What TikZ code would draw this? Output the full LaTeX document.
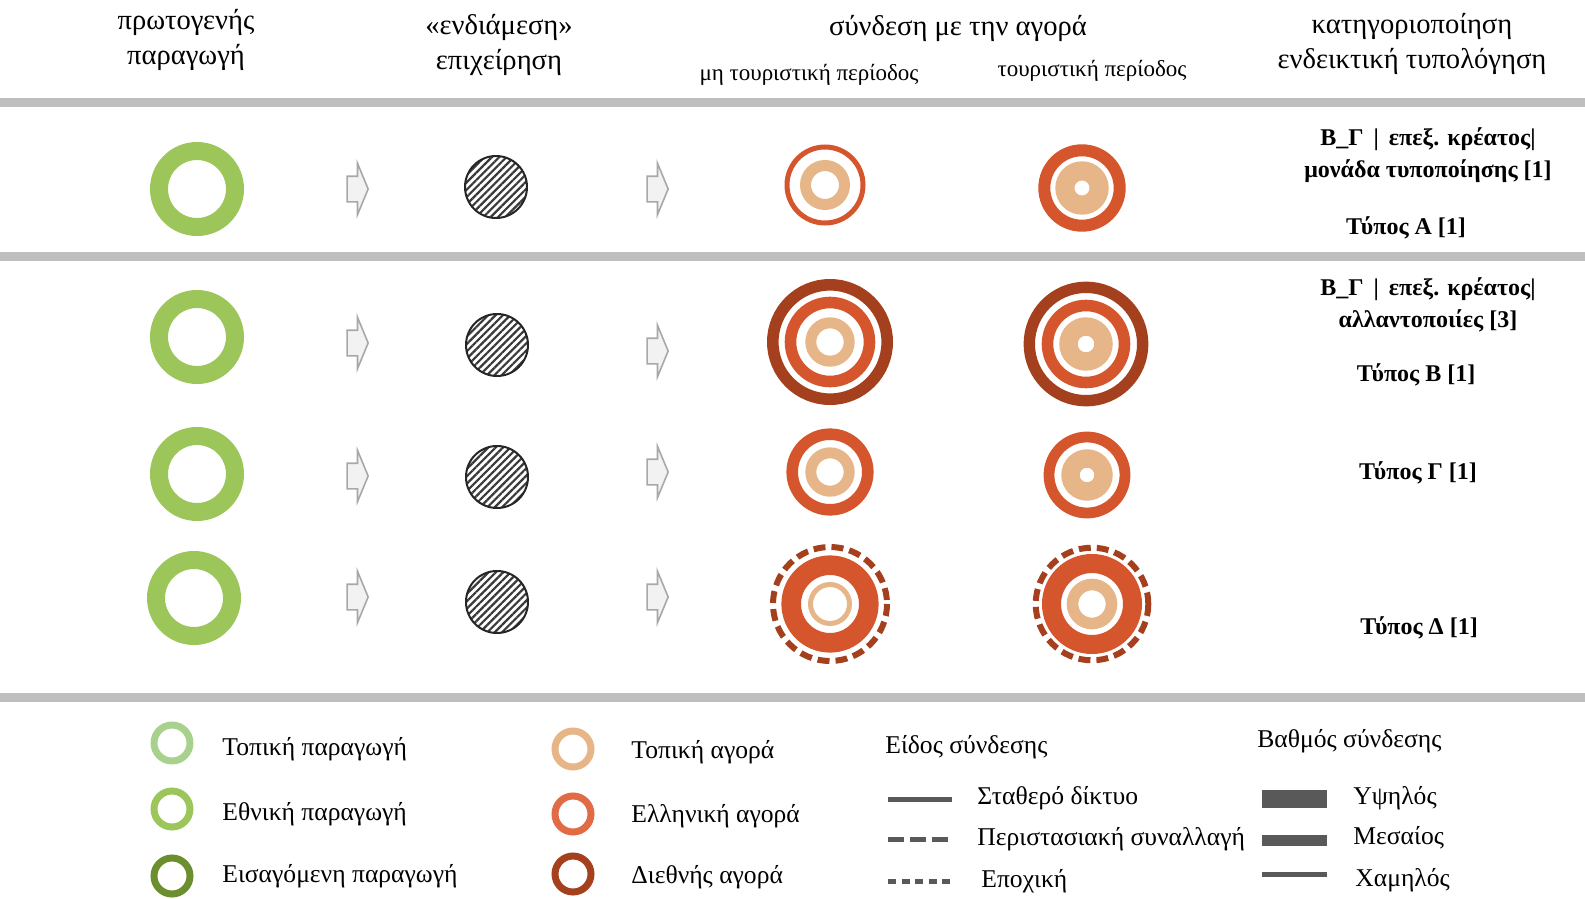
\documentclass[tikz,border=0pt]{standalone}
\usepackage{fontspec}
\setmainfont{Liberation Serif}
\usepackage{xcolor}
\usepackage{tikz}
\usetikzlibrary{shapes.arrows, patterns.meta, positioning}

\definecolor{bargray}{HTML}{BFBFBF}
\definecolor{prodgreen}{HTML}{9DC65A}
\definecolor{prodlight}{HTML}{A9D18E}
\definecolor{proddark}{HTML}{6B8E2F}
\definecolor{localtan}{HTML}{E6B689}
\definecolor{greekorange}{HTML}{D5562D}
\definecolor{greeklight}{HTML}{E06B45}
\definecolor{intlbrown}{HTML}{A5401F}
\definecolor{firmedge}{HTML}{262626}
\definecolor{hatchgray}{HTML}{3A3A3A}
\definecolor{arrowedge}{HTML}{A8A8A8}
\definecolor{arrowfill}{HTML}{F2F2F2}
\definecolor{linkgray}{HTML}{595959}

\begin{document}
\begin{tikzpicture}[x=0.5pt,y=-0.5pt,
    sepbar/.style={fill=bargray},
    prod/.style={draw=prodgreen,line width=9pt},
    firm/.style={draw=firmedge,line width=1pt,
        pattern={Lines[angle=45,distance=2.6pt,line width=1.1pt]},
        pattern color=hatchgray},
    flow/.style={single arrow,draw=arrowedge,fill=arrowfill,line width=0.8pt,
        inner xsep=0pt,inner ysep=6pt,minimum height=10.5pt,
        single arrow head extend=6.5pt,single arrow tip angle=135},
    localmkt/.style={draw=localtan},
    greekmkt/.style={draw=greekorange},
    intlmkt/.style={draw=intlbrown},
    colhead/.style={font=\fontsize{14.3}{17.5}\selectfont,align=center},
    subhead/.style={font=\fontsize{11.5}{14}\selectfont},
    typetxt/.style={font=\bfseries\fontsize{12}{16}\selectfont,align=center},
    legtxt/.style={font=\fontsize{12.8}{15}\selectfont,anchor=west,inner xsep=0pt},
    legring/.style={line width=3.5pt},
    linksample/.style={draw=linkgray,line width=2.5pt}]

        \useasboundingbox (0,0) rectangle (1585,899);

        %=====================
        % Separators
        %=====================
        \fill[sepbar] (0,98) rectangle (1585,107);
        \fill[sepbar] (0,252) rectangle (1585,261);
        \fill[sepbar] (0,693) rectangle (1585,702);

        %=====================
        % Column headers
        %=====================
        \node[colhead] (hprod) at (186,40) {πρωτογενής\\παραγωγή};
        \node[colhead] (hfirm) at (499,45) {«ενδιάμεση»\\επιχείρηση};
        \node[colhead] (hmkt) at (958,28) {σύνδεση με την αγορά};
        \node[subhead] (hoff) at (809,75) {μη τουριστική περίοδος};
        \node[subhead] (hon) at (1092,71) {τουριστική περίοδος};
        \node[colhead] (htype) at (1412,44) {κατηγοριοποίηση\\ενδεικτική τυπολόγηση};

        %=====================
        % Row 1
        %=====================
        \draw[prod] (197,189) circle (38);
        \node[flow] (a11) at (355,189) {};
        \draw[firm] (496,187) circle (31);
        \node[flow] (a12) at (655,189) {};
        \draw[greekmkt,line width=2.5pt] (825,185) circle (38);
        \draw[localmkt,line width=5.5pt] (825,185) circle (19.5);
        \draw[greekmkt,line width=6pt] (1082,188) circle (37.7);
        \draw[localmkt,line width=9.6pt] (1082,188) circle (17.1);

        \node[typetxt] (t1a) at (1428,155)
        {Β\_Γ \,|\, επεξ. κρέατος|\\μονάδα τυποποίησης [1]};
        \node[typetxt] (t1b) at (1406,228) {Τύπος Α [1]};

        %=====================
        % Row 2
        %=====================
        \draw[prod] (197,337) circle (38);
        \node[flow] (a21) at (355,343) {};
        \draw[firm] (497,345) circle (31);
        \node[flow] (a22) at (655,351) {};
        \draw[intlmkt,line width=5.8pt] (830,342) circle (57.2);
        \draw[greekmkt,line width=5.8pt] (830,342) circle (39.5);
        \draw[localmkt,line width=5.5pt] (830,342) circle (19.2);
        \draw[intlmkt,line width=5.7pt] (1086,344) circle (56.7);
        \draw[greekmkt,line width=5.8pt] (1086,344) circle (38.5);
        \draw[localmkt,line width=9.2pt] (1086,344) circle (17.5);

        \node[typetxt] (t2a) at (1428,305)
        {Β\_Γ \,|\, επεξ. κρέατος|\\αλλαντοποιίες [3]};
        \node[typetxt] (t2b) at (1416,375) {Τύπος Β [1]};

        %=====================
        % Row 3
        %=====================
        \draw[prod] (197,474) circle (38);
        \node[flow] (a31) at (355,476) {};
        \draw[firm] (497,477) circle (31);
        \node[flow] (a32) at (655,472) {};
        \draw[greekmkt,line width=5.8pt] (830,472) circle (37.8);
        \draw[localmkt,line width=5.5pt] (830,472) circle (19.2);
        \draw[greekmkt,line width=5.4pt] (1087,475) circle (38);
        \draw[localmkt,line width=9.2pt] (1087,475) circle (16.5);

        \node[typetxt] (t3) at (1418,473) {Τύπος Γ [1]};

        %=====================
        % Row 4 (seasonal)
        %=====================
        \draw[prod] (194,598) circle (38);
        \node[flow] (a41) at (355,597) {};
        \draw[firm] (497,602) circle (31);
        \node[flow] (a42) at (655,597) {};
        \draw[intlmkt,line width=3pt,dash pattern=on 6pt off 3pt] (830,604) circle (57);
        \draw[greekmkt,line width=9.8pt] (830,604) circle (38.8);
        \draw[localmkt,line width=2.5pt] (830,604) circle (19.5);
        \draw[intlmkt,line width=3pt,dash pattern=on 6pt off 3pt] (1092,604) circle (56.3);
        \draw[greekmkt,line width=9.5pt] (1092,604) circle (40.5);
        \draw[localmkt,line width=5.8pt] (1092,604) circle (19.5);

        \node[typetxt] (t4) at (1419,628) {Τύπος Δ [1]};

        %=====================
        % Legend: production
        %=====================
        \draw[legring,draw=prodlight] (172,743) circle (18);
        \draw[legring,draw=prodgreen] (172,809) circle (18);
        \draw[legring,draw=proddark] (172,876) circle (18);
        \node[legtxt] (lp1) at (222,749) {Τοπική παραγωγή};
        \node[legtxt] (lp2) at (222,814) {Εθνική παραγωγή};
        \node[legtxt] (lp3) at (222,876) {Εισαγόμενη παραγωγή};

        %=====================
        % Legend: markets
        %=====================
        \draw[legring,draw=localtan] (573,749) circle (18);
        \draw[legring,draw=greeklight] (573,814) circle (18);
        \draw[legring,draw=intlbrown] (573,874) circle (18);
        \node[legtxt] (lm1) at (631,752) {Τοπική αγορά};
        \node[legtxt] (lm2) at (631,816) {Ελληνική αγορά};
        \node[legtxt] (lm3) at (631,877) {Διεθνής αγορά};

        %=====================
        % Legend: type of link
        %=====================
        \node[legtxt] (lk0) at (885,747) {Είδος σύνδεσης};
        \draw[linksample] (888,799) -- (952,799);
        \draw[linksample,dash pattern=on 8pt off 3pt] (888,839) -- (950,839);
        \draw[linksample,dash pattern=on 4pt off 2.75pt] (888,881) -- (952,881);
        \node[legtxt] (lk1) at (977,798) {Σταθερό δίκτυο};
        \node[legtxt] (lk2) at (977,839) {Περιστασιακή συναλλαγή};
        \node[legtxt] (lk3) at (981,881) {Εποχική};

        %=====================
        % Legend: degree of link
        %=====================
        \node[legtxt] (ld0) at (1257,741) {Βαθμός σύνδεσης};
        \fill[linkgray] (1262,790) rectangle (1327,808);
        \fill[linkgray] (1262,835) rectangle (1327,846);
        \fill[linkgray] (1262,872) rectangle (1327,877);
        \node[legtxt] (ld1) at (1353,798) {Υψηλός};
        \node[legtxt] (ld2) at (1353,838) {Μεσαίος};
        \node[legtxt] (ld3) at (1355,880) {Χαμηλός};

\end{tikzpicture}
\end{document}
